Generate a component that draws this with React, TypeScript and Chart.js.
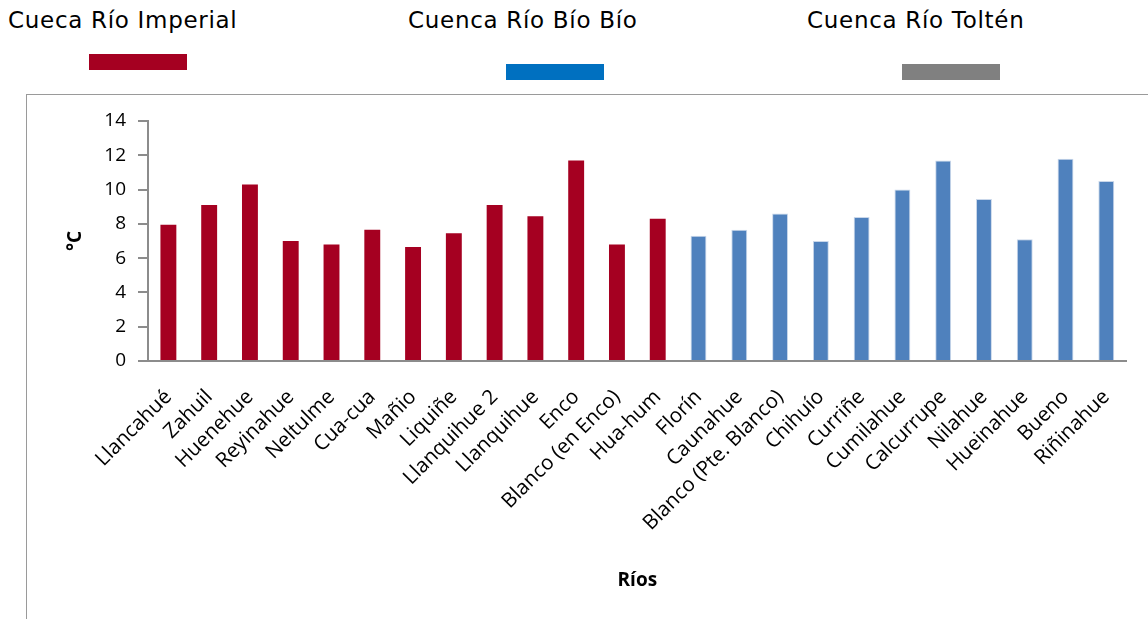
import React, { useEffect, useRef } from 'react';
import { Chart, registerables } from 'chart.js';

Chart.register(...registerables);

const categories = [
  'Llancahué', 'Zahuil', 'Huenehue', 'Reyinahue', 'Neltulme', 'Cua-cua', 'Mañio', 'Liquiñe',
  'Llanquihue 2', 'Llanquihue', 'Enco', 'Blanco (en Enco)', 'Hua-hum',
  'Florín', 'Caunahue', 'Blanco (Pte. Blanco)', 'Chihuío', 'Curriñe', 'Cumilahue', 'Calcurrupe',
  'Nilahue', 'Hueinahue', 'Bueno', 'Riñinahue',
];

const temperatures = [
  7.95, 9.1, 10.3, 7.0, 6.8, 7.65, 6.65, 7.45, 9.1, 8.45, 11.7, 6.8, 8.3,
  7.3, 7.65, 8.6, 7.0, 8.4, 10.0, 11.7, 9.45, 7.1, 11.8, 10.5,
];

const basins = [
  'imperial', 'imperial', 'imperial', 'imperial', 'imperial', 'imperial', 'imperial',
  'imperial', 'imperial', 'imperial', 'imperial', 'imperial', 'imperial',
  'biobio', 'biobio', 'biobio', 'biobio', 'biobio', 'biobio', 'biobio', 'biobio',
  'biobio', 'biobio', 'biobio',
];

const legendLabels = ['Cueca Río Imperial', 'Cuenca Río Bío Bío', 'Cuenca Río Toltén'];

const yMin = 0;
const yMax = 14;
const yStep = 2;

const BAR_COLORS: Record<string, string> = { imperial: '#A50021', biobio: '#4F81BD' };
const BAR_BORDERS: Record<string, string> = { imperial: '#A50021', biobio: '#C9D7EA' };
const LEGEND_COLORS = ['#A50021', '#0070C0', '#808080'];
const LEGEND_TEXT_POS = [8, 408, 807];
const LEGEND_RECT_POS = [
  { left: 89, top: 54 },
  { left: 506, top: 64 },
  { left: 902, top: 64 },
];

const AXIS_COLOR = '#8c8c8c';

export default function App() {
  const ref = useRef<HTMLCanvasElement>(null);

  useEffect(() => {
    document.body.style.margin = '0';
    const chart = new Chart(ref.current as HTMLCanvasElement, {
      type: 'bar',
      data: {
        labels: categories,
        datasets: [
          {
            data: temperatures,
            backgroundColor: basins.map((b) => BAR_COLORS[b]),
            borderColor: basins.map((b) => BAR_BORDERS[b]),
            borderWidth: basins.map((b) => (b === 'biobio' ? 1 : 0)),
            barPercentage: 0.78,
            categoryPercentage: 0.5,
          },
        ],
      },
      options: {
        responsive: false,
        animation: false,
        layout: { padding: { left: 55, right: 15, top: 121, bottom: 23 } },
        plugins: { legend: { display: false }, tooltip: { enabled: false } },
        scales: {
          x: {
            grid: { display: false, drawTicks: false },
            border: { display: true, color: AXIS_COLOR, width: 2 },
            ticks: {
              autoSkip: false,
              maxRotation: 45,
              minRotation: 45,
              padding: 24,
              color: '#000',
              font: { family: 'Open Sans', size: 20.5 },
            },
            title: {
              display: true,
              text: 'Ríos',
              color: '#000',
              font: { family: 'Open Sans', size: 19, weight: 'bold' },
              padding: { top: 0, bottom: 4 },
            },
            afterFit: (s: any) => {
              s.height = 235;
            },
          },
          y: {
            min: yMin,
            max: yMax,
            ticks: {
              stepSize: yStep,
              padding: 12,
              color: '#000',
              font: { family: 'Open Sans', size: 19 },
            },
            grid: {
              drawOnChartArea: false,
              drawTicks: true,
              tickLength: 10,
              color: AXIS_COLOR,
              lineWidth: 2,
            },
            border: { color: AXIS_COLOR, width: 2 },
            title: {
              display: true,
              text: '°C',
              color: '#000',
              font: { family: 'Open Sans', size: 19, weight: 'bold' },
              padding: { top: 9, bottom: 0 },
            },
            afterFit: (s: any) => {
              s.width = 93;
            },
          },
        },
      },
    } as any);
    return () => chart.destroy();
  }, []);

  return (
    <div style={{ position: 'relative', width: 1148, height: 619, overflow: 'hidden', background: '#fff' }}>
      <div
        style={{
          position: 'absolute',
          left: 26,
          top: 94,
          width: 1200,
          height: 600,
          borderLeft: '1px solid #9a9a9a',
          borderTop: '1px solid #9a9a9a',
        }}
      />
      {legendLabels.map((label, i) => (
        <React.Fragment key={label}>
          <div
            style={{
              position: 'absolute',
              left: LEGEND_TEXT_POS[i],
              top: 9,
              fontFamily: 'DejaVu Sans',
              fontSize: 23,
              lineHeight: '23px',
              letterSpacing: '0.7px',
              color: '#000',
              whiteSpace: 'nowrap',
            }}
          >
            {label}
          </div>
          <div
            style={{
              position: 'absolute',
              left: LEGEND_RECT_POS[i].left,
              top: LEGEND_RECT_POS[i].top,
              width: 98,
              height: 16,
              background: LEGEND_COLORS[i],
            }}
          />
        </React.Fragment>
      ))}
      <canvas
        ref={ref}
        width={1148}
        height={619}
        style={{ position: 'absolute', left: 0, top: 0, width: 1148, height: 619 }}
      />
    </div>
  );
}
